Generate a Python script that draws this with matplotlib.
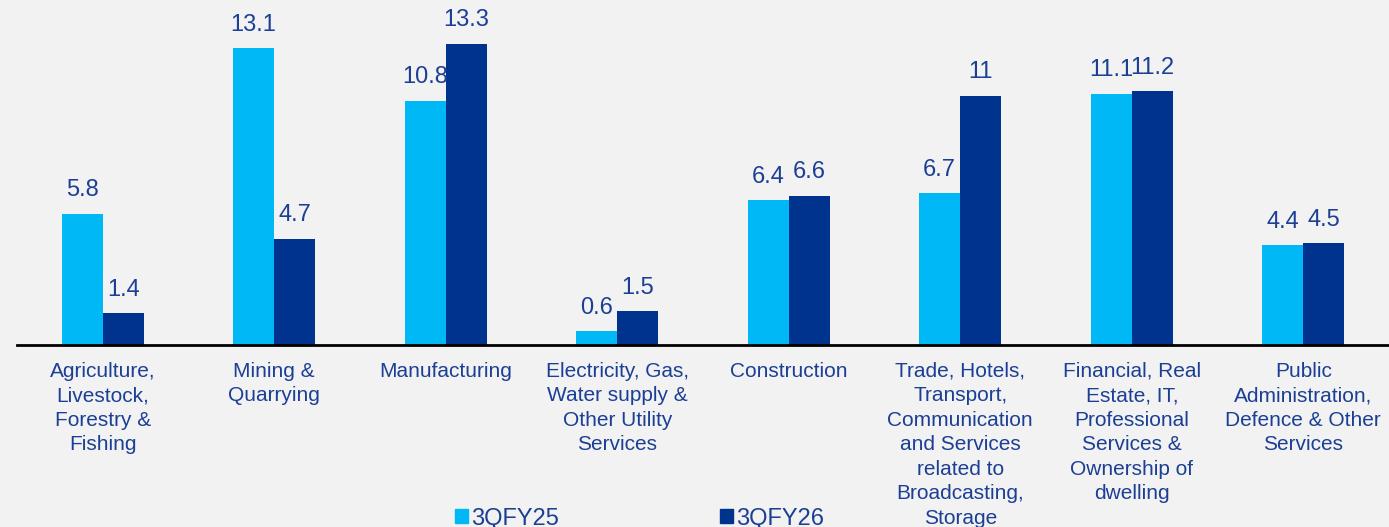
import matplotlib
matplotlib.use("Agg")
import matplotlib.pyplot as plt
from matplotlib.patches import Patch
import numpy as np

plt.rcParams['font.family'] = ['Liberation Sans', 'DejaVu Sans']

categories = [
    "Agriculture,\nLivestock,\nForestry &\nFishing",
    "Mining &\nQuarrying",
    "Manufacturing",
    "Electricity, Gas,\nWater supply &\nOther Utility\nServices",
    "Construction",
    "Trade, Hotels,\nTransport,\nCommunication\nand Services\nrelated to\nBroadcasting,\nStorage",
    "Financial, Real\nEstate, IT,\nProfessional\nServices &\nOwnership of\ndwelling",
    "Public\nAdministration,\nDefence & Other\nServices",
]
fy25 = [5.8, 13.1, 10.8, 0.6, 6.4, 6.7, 11.1, 4.4]
fy26 = [1.4, 4.7, 13.3, 1.5, 6.6, 11, 11.2, 4.5]
series_names = ["3QFY25", "3QFY26"]

light = "#00B8F5"
dark = "#00338D"
txt = "#1B3F94"
bg = "#F2F2F2"

fig = plt.figure(figsize=(13.89, 5.27), dpi=100, facecolor=bg)
ax = fig.add_axes([17 / 1389, 182 / 527, 1 - 17 / 1389, 345 / 527])
ax.set_facecolor(bg)

x = np.arange(len(categories))
w = 0.24
b1 = ax.bar(x - w / 2, fy25, w, color=light)
b2 = ax.bar(x + w / 2, fy26, w, color=dark)

for bars, vals in ((b1, fy25), (b2, fy26)):
    for bar, v in zip(bars, vals):
        ax.annotate(f"{v:g}", (bar.get_x() + bar.get_width() / 2, v),
                    xytext=(0, 9), textcoords="offset points",
                    ha="center", va="bottom", fontsize=17, color=txt)

ax.set_xlim(-0.5, 7.5)
ax.set_ylim(0, 15.24)
for s in ("top", "right", "left"):
    ax.spines[s].set_visible(False)
ax.spines["bottom"].set_linewidth(2)
ax.spines["bottom"].set_color("black")
ax.set_yticks([])
ax.set_xticks(x)
ax.set_xticklabels(categories, fontsize=15, color=txt, linespacing=1.37)
ax.tick_params(axis="x", length=0, pad=12)

handles = [Patch(color=light), Patch(color=dark)]
fig.legend(handles, series_names, loc="center", bbox_to_anchor=(0.4605, 0.016),
           ncol=2, frameon=False, fontsize=17, labelcolor=txt,
           handlelength=0.55, handleheight=0.55, handletextpad=0.15,
           columnspacing=6.8, borderpad=0)

fig.savefig("out.png", dpi=100, facecolor=bg)
